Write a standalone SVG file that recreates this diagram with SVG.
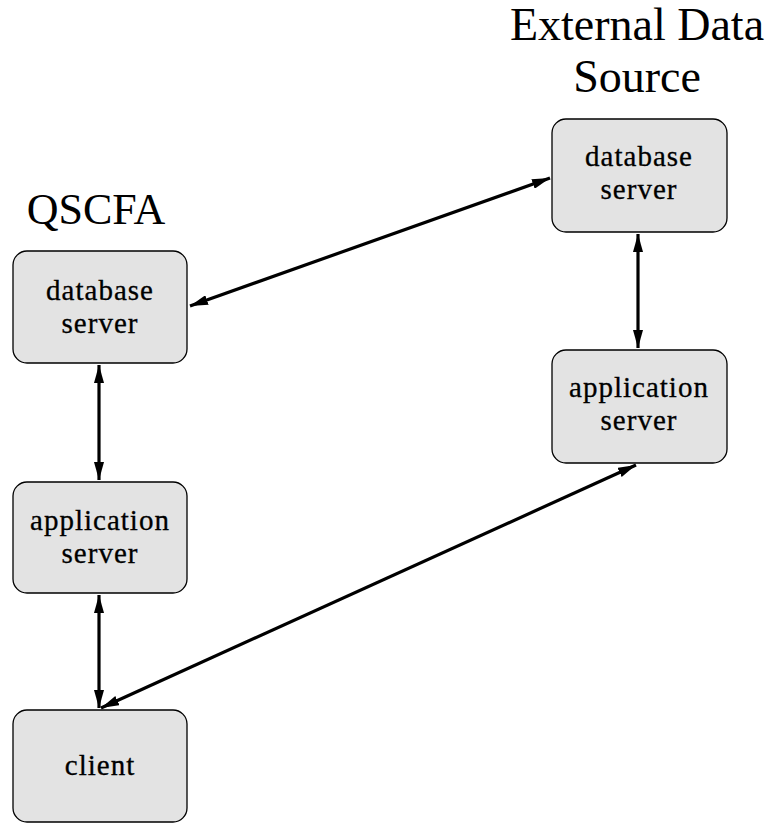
<svg xmlns="http://www.w3.org/2000/svg" width="775" height="823" viewBox="0 0 775 823">
<style>
.box{fill:#e3e3e3;stroke:#000;stroke-width:1.3}
.lbl{font-family:"Liberation Serif","DejaVu Serif",serif;font-size:29px;letter-spacing:1px;text-anchor:middle;fill:#000;stroke:#000;stroke-width:0.3}
.title{font-family:"Liberation Serif","DejaVu Serif",serif;font-size:46px;text-anchor:middle;fill:#000}
.conn{stroke:#000;stroke-width:3.2;fill:none;marker-start:url(#ah);marker-end:url(#ah)}
</style>
<defs>
<marker id="ah" viewBox="0 0 18 10" refX="18" refY="5" markerWidth="18" markerHeight="10" markerUnits="userSpaceOnUse" orient="auto-start-reverse">
<path d="M0,0 L18,5 L0,10 Z" fill="#000"/>
</marker>
</defs>
<rect width="775" height="823" fill="#fff"/>
<text class="title" x="96" y="224" style="font-size:44px">QSCFA</text>
<text class="title" x="637" y="40">External Data</text>
<text class="title" x="637" y="92">Source</text>
<g id="q_db">
<rect class="box" x="13" y="251" width="174" height="112" rx="14"/>
<text class="lbl" x="100" y="300">database</text>
<text class="lbl" x="100" y="333">server</text>
</g>
<g id="q_app">
<rect class="box" x="13" y="482" width="174" height="111" rx="14"/>
<text class="lbl" x="100" y="530">application</text>
<text class="lbl" x="100" y="563">server</text>
</g>
<g id="client">
<rect class="box" x="13" y="710" width="174" height="112" rx="14"/>
<text class="lbl" x="100" y="775">client</text>
</g>
<g id="e_db">
<rect class="box" x="552" y="119" width="175" height="113" rx="14"/>
<text class="lbl" x="639" y="166">database</text>
<text class="lbl" x="639" y="199">server</text>
</g>
<g id="e_app">
<rect class="box" x="552" y="350" width="175" height="113" rx="14"/>
<text class="lbl" x="639" y="397">application</text>
<text class="lbl" x="639" y="430">server</text>
</g>
<g id="connectors">
<line class="conn" x1="190" y1="306" x2="550" y2="178"/>
<line class="conn" x1="99" y1="365" x2="99" y2="480"/>
<line class="conn" x1="99" y1="595" x2="99" y2="708"/>
<line class="conn" x1="638" y1="234" x2="638" y2="348"/>
<line class="conn" x1="101" y1="708" x2="636" y2="465"/>
</g>
</svg>
